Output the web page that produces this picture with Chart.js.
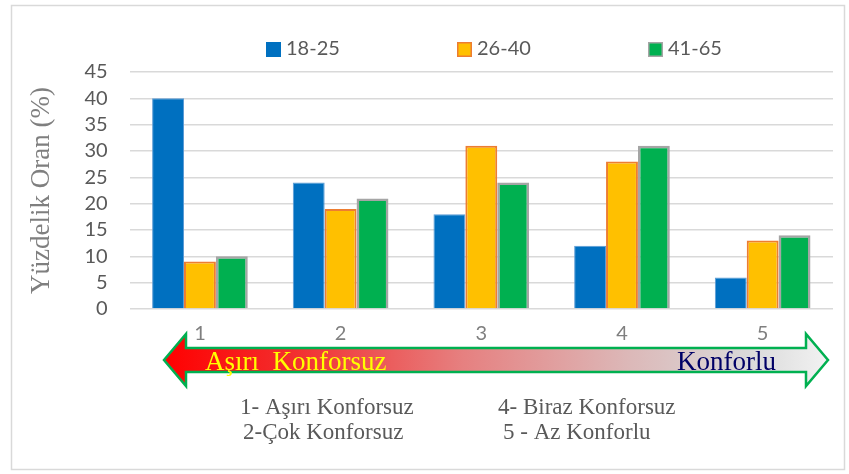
<!DOCTYPE html>
<html>
<head>
<meta charset="utf-8">
<script src="https://cdn.jsdelivr.net/npm/chart.js@4"></script>
<style>
  body { margin: 0; background: #fff; }
</style>
</head>
<body>
<canvas id="myChart" width="849" height="474"></canvas>
<script>
// data
var categories = ["1", "2", "3", "4", "5"];
var seriesNames = ["18-25", "26-40", "41-65"];
var values1825 = [40, 24, 18, 12, 6];
var values2640 = [9, 19, 31, 28, 13];
var values4165 = [10, 21, 24, 31, 14];
var yTicks = [0, 5, 10, 15, 20, 25, 30, 35, 40, 45];
var notesLeft = ["1- Aşırı Konforsuz", "2-Çok Konforsuz"];
var notesRight = ["4- Biraz Konforsuz", "5 - Az Konforlu"];

var grey = "#595959";

// frame, legend, arrow and notes (drawn under the tick labels)
const extrasPlugin = {
  id: "extras",
  beforeDraw: (chart) => {
    let ctx = chart.ctx;
    ctx.save();

    // outer frame
    ctx.strokeStyle = "#d9d9d9";
    ctx.lineWidth = 1.5;
    ctx.strokeRect(11.5, 5.5, 833, 464);

    // legend
    let legendX = [266, 457, 648];
    ctx.font = "20px Lato";
    ctx.textBaseline = "middle";
    ctx.textAlign = "left";
    chart.data.datasets.forEach(function(ds, i) {
      let x = legendX[i];
      ctx.fillStyle = ds.backgroundColor;
      ctx.fillRect(x, 42, 15, 15);
      if (i > 0) {
        ctx.strokeStyle = ds.borderColor;
        ctx.lineWidth = 1.5;
        ctx.strokeRect(x + 0.75, 42.75, 13.5, 13.5);
      }
      ctx.fillStyle = grey;
      ctx.fillText(ds.label, x + 20, 49);
    });

    // double headed arrow
    let l = 164, r = 828, hb1 = 186, hb2 = 806;
    let top = 334, bot = 386, bt = 348, bb = 372, mid = 360;
    let grad = ctx.createLinearGradient(l, 0, r, 0);
    grad.addColorStop(0, "#ff0000");
    grad.addColorStop(0.2, "#f23030");
    grad.addColorStop(0.45, "#e68080");
    grad.addColorStop(0.7, "#dcb8b8");
    grad.addColorStop(0.88, "#d9d9d9");
    grad.addColorStop(1, "#f2f2f2");
    ctx.beginPath();
    ctx.moveTo(l, mid);
    ctx.lineTo(hb1, top);
    ctx.lineTo(hb1, bt);
    ctx.lineTo(hb2, bt);
    ctx.lineTo(hb2, top);
    ctx.lineTo(r, mid);
    ctx.lineTo(hb2, bot);
    ctx.lineTo(hb2, bb);
    ctx.lineTo(hb1, bb);
    ctx.lineTo(hb1, bot);
    ctx.closePath();
    ctx.fillStyle = grad;
    ctx.fill();
    ctx.strokeStyle = "#00b050";
    ctx.lineWidth = 2.5;
    ctx.stroke();

    ctx.font = "27px 'Liberation Serif'";
    ctx.textBaseline = "alphabetic";
    ctx.fillStyle = "#ffff00";
    ctx.fillText("Aşırı  Konforsuz", 205, 370);
    ctx.fillStyle = "#000066";
    ctx.fillText("Konforlu", 677, 370);

    // notes
    ctx.font = "23px 'Liberation Serif'";
    ctx.fillStyle = grey;
    ctx.fillText(notesLeft[0], 240, 414);
    ctx.fillText(notesLeft[1], 243, 439);
    ctx.fillText(notesRight[0], 498, 414);
    ctx.fillText(notesRight[1], 503, 439);

    ctx.restore();
  }
};

var chart = new Chart(document.getElementById("myChart"), {
  type: "bar",
  data: {
    labels: categories,
    datasets: [
      { label: seriesNames[0], data: values1825, backgroundColor: "#0070c0",
        borderColor: "#5b9bd5", borderWidth: 1 },
      { label: seriesNames[1], data: values2640, backgroundColor: "#ffc000",
        borderColor: "#ed7d31", borderWidth: 2 },
      { label: seriesNames[2], data: values4165, backgroundColor: "#00b050",
        borderColor: "#a5a5a5", borderWidth: 2.5 }
    ]
  },
  options: {
    responsive: false,
    animation: false,
    layout: { padding: { top: 72, left: 22, right: 16, bottom: 115 } },
    plugins: { legend: { display: false }, tooltip: { enabled: false } },
    datasets: { bar: { categoryPercentage: 0.68, barPercentage: 1 } },
    scales: {
      x: {
        grid: { display: false, drawTicks: false },
        border: { display: false },
        ticks: { color: "#7f7f7f", font: { family: "Lato", size: 20 }, padding: 13 }
      },
      y: {
        min: 0, max: 45,
        afterBuildTicks: (axis) => { axis.ticks = yTicks.map(v => ({ value: v })); },
        grid: { color: "#d9d9d9", lineWidth: 1.5, drawTicks: false },
        border: { display: false },
        ticks: { color: grey, font: { family: "Lato", size: 20 }, padding: 22, autoSkip: false },
        title: { display: true, text: "Yüzdelik Oran (%)", color: "#7f7f7f",
          font: { family: "Liberation Serif", size: 27 }, padding: 4 }
      }
    }
  },
  plugins: [extrasPlugin]
});
</script>
</body>
</html>
